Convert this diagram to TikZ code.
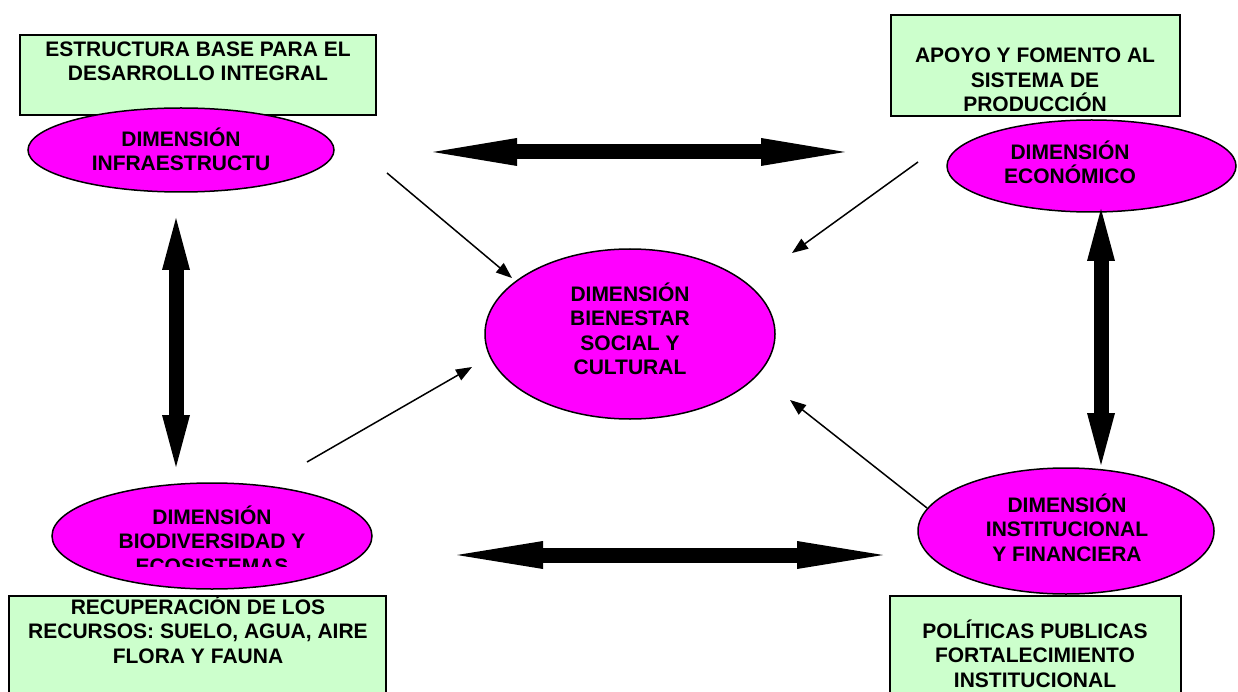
\documentclass[tikz,border=0pt]{standalone}
\usepackage{fontspec}
\setmainfont{Liberation Sans}
\usetikzlibrary{arrows.meta,shapes.geometric}
\definecolor{boxgreen}{HTML}{CCFFCC}
\definecolor{dimpink}{HTML}{FF00FF}

\begin{document}
\begin{tikzpicture}[x=1pt,y=-1pt,
    goal/.style={draw,line width=2pt,fill=boxgreen,inner sep=0pt},
    dim/.style={ellipse,draw,line width=1.5pt,fill=dimpink,inner sep=0pt},
    txt/.style={align=center,inner sep=0pt,font=\fontsize{21}{24.4}\selectfont\bfseries},
    link/.style={line width=1.5pt,-{Triangle[length=16pt,width=12pt]}},
    bigarrow/.style={line width=15pt,{Triangle[length=#1,width=28pt,line width=0pt]}-{Triangle[length=#1,width=28pt,line width=0pt]}}]
    \clip (0,0) rectangle (1238,692);
    \fill[white] (0,0) rectangle (1238,692);
    \node[goal,minimum width=356pt,minimum height=80pt] (basebox) at (198,75) {};
    \node[goal,minimum width=289pt,minimum height=101pt] (prodbox) at (1035.5,65.5) {};
    \node[goal,minimum width=377pt,minimum height=113pt] (resbox) at (197.5,652.5) {};
    \node[goal,minimum width=291pt,minimum height=113pt] (polbox) at (1035.5,652.5) {};
    \node[txt] (basetxt) at (198,61.5) {ESTRUCTURA BASE PARA EL\\DESARROLLO INTEGRAL};
    \node[txt] (prodtxt) at (1035,79.8) {APOYO Y FOMENTO AL\\SISTEMA DE\\PRODUCCIÓN};
    \node[txt] (restxt) at (198,629.6) {RECUPERACIÓN DE LOS\\RECURSOS: SUELO, AGUA, AIRE\\FLORA Y FAUNA};
    \node[txt] (poltxt) at (1035,653.6) {POLÍTICAS PUBLICAS\\FORTALECIMIENTO\\INSTITUCIONAL};
    \node[dim,minimum width=306pt,minimum height=84pt] (infra) at (181,150) {};
    \node[dim,minimum width=289pt,minimum height=92pt] (eco) at (1091.5,166) {};
    \node[dim,minimum width=290pt,minimum height=170pt] (centre) at (630,334) {};
    \node[dim,minimum width=320pt,minimum height=106pt] (bio) at (212,536) {};
    \node[dim,minimum width=296pt,minimum height=126pt] (inst) at (1066,531) {};
    \node[txt] (infratxt) at (181,149.4) {DIMENSIÓN\\INFRAESTRUCTU};
    \node[txt] (ecotxt) at (1070,162.4) {DIMENSIÓN\\ECONÓMICO};
    \node[txt] (centretxt) at (630,328.8) {DIMENSIÓN\\BIENESTAR\\SOCIAL Y\\CULTURAL};
    \node[txt] (insttxt) at (1067,527.6) {DIMENSIÓN\\INSTITUCIONAL\\Y FINANCIERA};
    \begin{scope}
        \clip (0,0) rectangle (1238,566);
        \node[txt] (biotxt) at (212,539.6) {DIMENSIÓN\\BIODIVERSIDAD Y\\ECOSISTEMAS};
    \end{scope}
    \coordinate (topleft) at (433,152);
    \coordinate (topright) at (845,152);
    \coordinate (botleft) at (457,555);
    \coordinate (botright) at (883,555);
    \coordinate (leftup) at (176,218);
    \coordinate (leftdown) at (176,467);
    \coordinate (rightup) at (1101,209);
    \coordinate (rightdown) at (1101,465);
    \draw[bigarrow=84pt] (topleft) -- (topright);
    \draw[bigarrow=86pt] (botleft) -- (botright);
    \draw[bigarrow=52pt] (leftup) -- (leftdown);
    \draw[bigarrow=52pt] (rightup) -- (rightdown);
    \coordinate (infrafrom) at (387,173);
    \coordinate (infrato) at (512,278);
    \coordinate (ecofrom) at (918,162);
    \coordinate (ecoto) at (792,253);
    \coordinate (biofrom) at (307,462);
    \coordinate (bioto) at (472,367);
    \coordinate (instfrom) at (927,508);
    \coordinate (instto) at (790,400);
    \draw[link] (infrafrom) -- (infrato);
    \draw[link] (ecofrom) -- (ecoto);
    \draw[link] (biofrom) -- (bioto);
    \draw[link] (instfrom) -- (instto);
\end{tikzpicture}
\end{document}
